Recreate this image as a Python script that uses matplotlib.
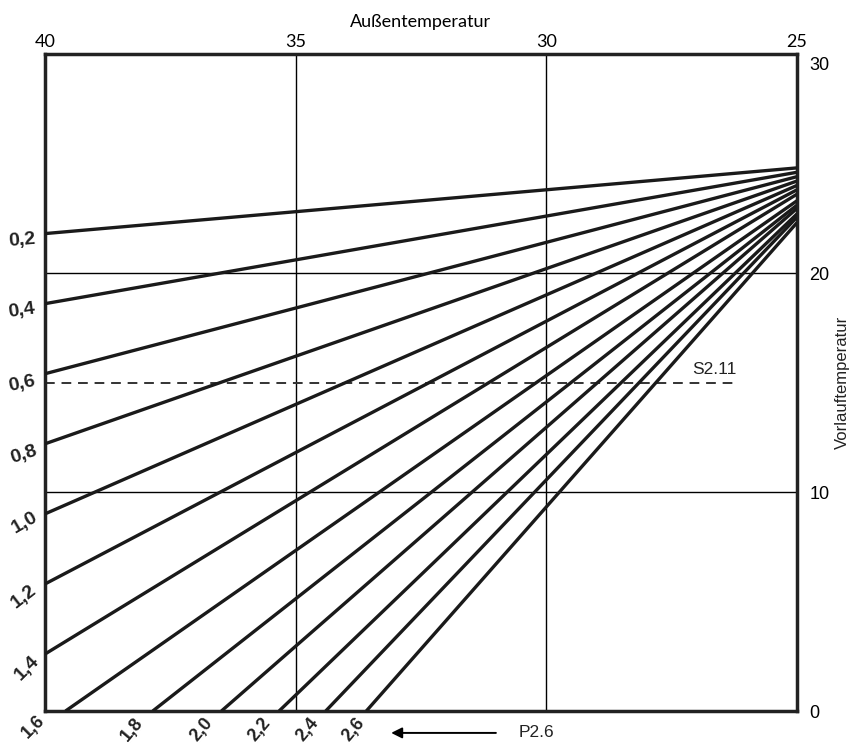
import matplotlib.pyplot as plt
from matplotlib.transforms import offset_copy

# Kennlinien (Steigung), Werte
steigung = ['0,2', '0,4', '0,6', '0,8', '1,0', '1,2', '1,4',
            '1,6', '1,8', '2,0', '2,2', '2,4', '2,6']
# Startpunkt jeder Kennlinie (Aussentemp., Vorlauftemp.)
start_t = [40, 40, 40, 40, 40, 40, 40, 39.59, 37.85, 36.48, 35.33, 34.40, 33.59]
start_v = [21.8, 18.6, 15.4, 12.2, 9.0, 5.8, 2.6, 0, 0, 0, 0, 0, 0]
# Endpunkt bei 25 Grad
end_t = 25
end_v = [24.8, 24.6, 24.4, 24.2, 24.0, 23.8, 23.6, 23.3, 23.1, 22.95, 22.7, 22.55, 22.3]

# Beschriftung der Kennlinien: Position, Drehung, Groesse
lab_t = [40.46, 40.46, 40.46, 40.42, 40.40, 40.42, 40.36,
         40.24, 38.27, 36.87, 35.72, 34.76, 33.84]
lab_v = [21.5, 18.3, 14.95, 11.7, 8.6, 5.2, 1.95,
         -0.72, -0.85, -0.85, -0.85, -0.85, -0.85]
lab_rot = [5, 8, 12, 18, 30, 38, 45, 45, 50, 50, 50, 50, 50]
lab_size = [14, 14, 14, 14, 14, 14, 14, 13, 13, 13, 13, 13, 13]

xticks = [40, 35, 30, 25]
yticks = [0, 10, 20, 30]
s211 = 15

fig = plt.figure(figsize=(8.58, 7.46), dpi=100)
ax = fig.add_axes([0.0524, 0.0469, 0.8765, 0.8807])

ax.set_xlim(40, 25)
ax.set_ylim(0, 30)

# Gitter
for x in [35, 30]:
    ax.axvline(x, color='black', lw=1.0, zorder=1)
for y in [10, 20]:
    ax.axhline(y, color='black', lw=1.0, zorder=1)

# Kennlinien
for i in range(len(steigung)):
    ax.plot([start_t[i], end_t], [start_v[i], end_v[i]], color='#1a1a1a',
            lw=2.4, solid_capstyle='butt', zorder=3)
    ax.text(lab_t[i], lab_v[i], steigung[i], rotation=lab_rot[i],
            ha='center', va='center', fontsize=lab_size[i], fontweight='bold',
            family='Liberation Sans', color='#222222', clip_on=False,
            rotation_mode='anchor')

# S2.11 gestrichelt
ax.plot([40, 26.2], [s211, s211], color='#333333', lw=1.4,
        dashes=(5, 3.5), zorder=2)
ax.text(26.65, 15.6, 'S2.11', ha='center', va='center', fontsize=12.5,
        family='Liberation Sans', color='#222222')

# Pfeil P2.6
ax.annotate('', xy=(33.15, -1.0), xytext=(30.95, -1.0),
            arrowprops=dict(arrowstyle='-|>', color='black', lw=1.4,
                            mutation_scale=16),
            annotation_clip=False)
ax.text(30.2, -1.0, 'P2.6', ha='center', va='center', fontsize=12.5,
        family='Liberation Sans', color='#222222')

# Achsen
ax.xaxis.tick_top()
ax.xaxis.set_label_position('top')
ax.set_xticks(xticks)
ax.set_xticklabels([str(t) for t in xticks], family='Lato', fontsize=13)
ax.tick_params(axis='x', length=0, pad=3)
ax.set_xlabel('Außentemperatur', family='Lato', fontsize=13, labelpad=5)

ax.yaxis.tick_right()
ax.yaxis.set_label_position('right')
ax.set_yticks(yticks)
ax.set_yticklabels([str(t) for t in yticks], family='Liberation Sans', fontsize=13)
ax.tick_params(axis='y', length=0, pad=9)
lbl30 = ax.get_yticklabels()[-1]
lbl30.set_transform(offset_copy(lbl30.get_transform(), fig=fig, x=0, y=-9, units='dots'))
ax.set_ylabel('Vorlauftemperatur', family='Liberation Sans', fontsize=12,
              labelpad=4, color='#222222')

for s in ax.spines.values():
    s.set_linewidth(2.5)
    s.set_color('#222222')

fig.savefig('out.png', dpi=100)
